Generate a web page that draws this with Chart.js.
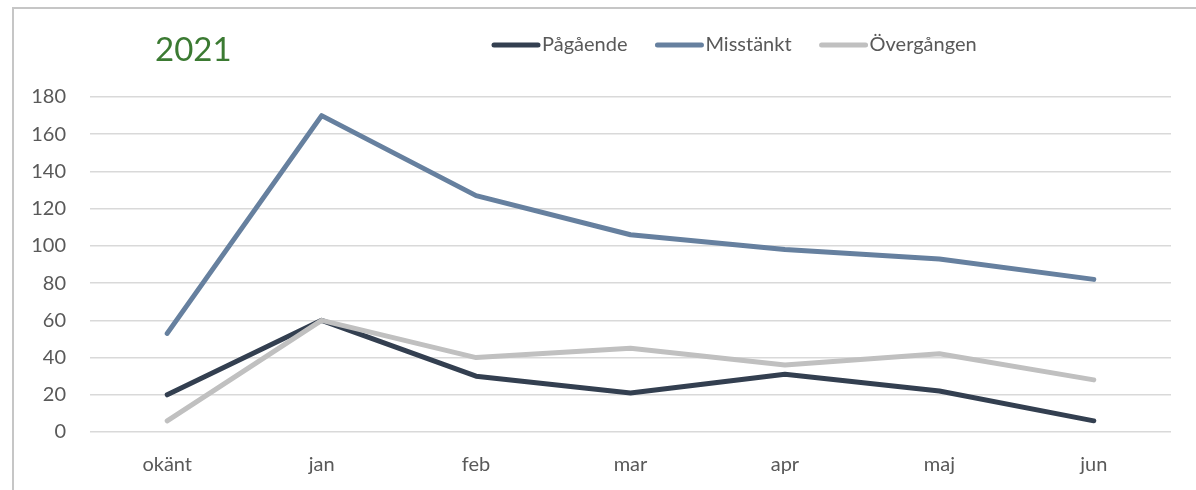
<!DOCTYPE html>
<html>
<head>
<meta charset="utf-8">
<script src="https://cdn.jsdelivr.net/npm/chart.js@4.4.1/dist/chart.umd.min.js"></script>
<style>
  html, body { margin: 0; padding: 0; background: #fff; overflow: hidden; }
  #ram { position: absolute; left: 12px; top: 7px; width: 1200px; height: 500px; border: 2px solid #c6c6c6; box-sizing: border-box; }
  #wrap { position: absolute; left: 0; top: 0; width: 1196px; height: 490px; }
</style>
</head>
<body>
<div id="ram"></div>
<div id="wrap"><canvas id="graf"></canvas></div>
<script>
// Data
const titel = '2021'
const manader = ['okänt', 'jan', 'feb', 'mar', 'apr', 'maj', 'jun']
const serieNamn = ['Pågående', 'Misstänkt', 'Övergången']
const pagaende = [20, 60, 30, 21, 31, 22, 6]
const misstankt = [53, 170, 127, 106, 98, 93, 82]
const overgangen = [6, 60, 40, 45, 36, 42, 28]
const yTicks = [0, 20, 40, 60, 80, 100, 120, 140, 160, 180]

const farger = ['#333f50', '#66809f', '#c0c0c0']
const TEXT = '#595959'
const FONT = 'Lato'

// Titel + förklaring ritas för hand för att likna Excel-layouten
const rubrikPlugin = {
  id: 'rubrik',
  afterDraw(chart) {
    const ctx = chart.ctx
    ctx.save()
    ctx.fillStyle = '#3b7a32'
    ctx.font = `33px ${FONT}`
    ctx.textBaseline = 'middle'
    ctx.textAlign = 'left'
    ctx.fillText(titel, 155, 50)

    ctx.font = `20px ${FONT}`
    let x = 494
    const y = 45
    chart.data.datasets.forEach((ds, i) => {
      ctx.strokeStyle = ds.borderColor
      ctx.lineWidth = 5
      ctx.lineCap = 'round'
      ctx.beginPath()
      ctx.moveTo(x, y)
      ctx.lineTo(x + 44, y)
      ctx.stroke()
      ctx.fillStyle = TEXT
      ctx.fillText(ds.label, x + 48, y)
      x += 48 + ctx.measureText(ds.label).width + 30
    })
    ctx.restore()
  }
}

const serier = [pagaende, misstankt, overgangen]

new Chart(document.getElementById('graf'), {
  type: 'line',
  data: {
    labels: manader,
    datasets: serier.map((data, i) => ({
      label: serieNamn[i],
      data,
      borderColor: farger[i],
      backgroundColor: farger[i],
      borderWidth: 5,
      borderCapStyle: 'round',
      borderJoinStyle: 'round',
      pointRadius: 0,
      tension: 0,
      order: 3 - i
    }))
  },
  options: {
    responsive: true,
    maintainAspectRatio: false,
    animation: false,
    layout: { padding: { top: 97, right: 25, left: 0, bottom: 0 } },
    plugins: {
      legend: { display: false },
      tooltip: { enabled: false }
    },
    scales: {
      x: {
        offset: true,
        grid: { display: false, drawTicks: false },
        border: { display: false },
        ticks: { color: TEXT, font: { family: FONT, size: 20 }, padding: 21, maxRotation: 0 },
        afterFit: s => { s.height = 58 }
      },
      y: {
        min: 0,
        max: 180,
        afterBuildTicks: s => { s.ticks = yTicks.map(v => ({ value: v })) },
        grid: { color: '#d9d9d9', lineWidth: 1.5, drawTicks: false },
        border: { display: false },
        ticks: { color: TEXT, font: { family: FONT, size: 20 }, padding: 24 },
        afterFit: s => { s.width = 90 }
      }
    }
  },
  plugins: [rubrikPlugin]
})
</script>
</body>
</html>
